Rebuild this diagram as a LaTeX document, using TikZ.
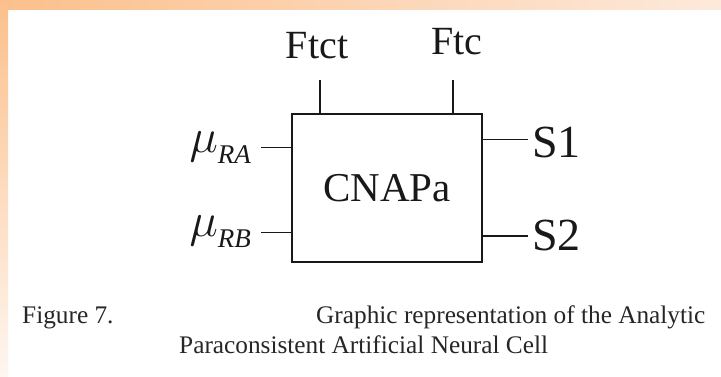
\documentclass[tikz,border=0pt]{standalone}
\usepackage{fix-cm}
\usepackage{fontspec}
\setmainfont{Liberation Serif}
\definecolor{orA}{RGB}{251,192,140}
\definecolor{orB}{RGB}{253,233,219}
\definecolor{orC}{RGB}{254,246,240}
\definecolor{ink}{RGB}{25,25,25}
\newcommand{\subsc}[1]{\raisebox{-11pt}{\fontsize{27}{30}\selectfont\itshape #1}}
\begin{document}
\begin{tikzpicture}[x=1pt,y=-1pt,
  wire/.style={line width=1.5pt, draw=ink},
  lab/.style={inner sep=0pt, text=ink, font=\fontsize{40}{48}\selectfont},
  slab/.style={inner sep=0pt, text=ink, font=\fontsize{46}{52}\selectfont},
  mlab/.style={inner sep=0pt, text=ink, font=\fontsize{48}{56}\selectfont},
  capt/.style={inner sep=0pt, text=black!85, font=\fontsize{25.3}{30}\selectfont}]
\useasboundingbox (0,0) rectangle (721,376);
\fill[white] (0,0) rectangle (721,376);
\shade[left color=orA, right color=orB] (0,0) rectangle (721,9);
\shade[top color=orA, bottom color=orC] (0,0) rectangle (8,376);
% cell
\node[draw=ink, line width=1.8pt, minimum width=190pt, minimum height=148pt,
      inner sep=0pt, text=ink, font=\fontsize{41}{48}\selectfont] (cell) at (387,188) {CNAPa};
% top inputs
\node[lab, anchor=base] (ftct) at (317,58) {Ftct};
\node[lab, anchor=base] (ftc) at (457,54) {Ftc};
\coordinate (ta) at (320,80);
\coordinate (tb) at (453,80);
\draw[wire] (ta) -- (ta |- cell.north);
\draw[wire] (tb) -- (tb |- cell.north);
% left inputs
\node[mlab, anchor=base east] (mua) at (251,152) {$\mu$\subsc{RA}};
\node[mlab, anchor=base east] (mub) at (251,236) {$\mu$\subsc{RB}};
\coordinate (la) at (261,147.7);
\coordinate (lb) at (261,232.7);
\draw[wire] (la) -- (la -| cell.west);
\draw[wire] (lb) -- (lb -| cell.west);
% right outputs
\node[slab, anchor=base west] (s1) at (532,157) {S1};
\node[slab, anchor=base west] (s2) at (532,250) {S2};
\coordinate (ra) at (528,139.5);
\coordinate (rb) at (528,236);
\draw[wire] (ra -| cell.east) -- (ra);
\draw[wire] (rb -| cell.east) -- (rb);
% caption
\node[capt, anchor=base west] (fig) at (22,323) {Figure 7.};
\node[capt, anchor=base west] (cap1) at (316,323) {Graphic representation of the Analytic};
\node[capt, anchor=base west] (cap2) at (179,353) {Paraconsistent Artificial Neural Cell};
\end{tikzpicture}
\end{document}
